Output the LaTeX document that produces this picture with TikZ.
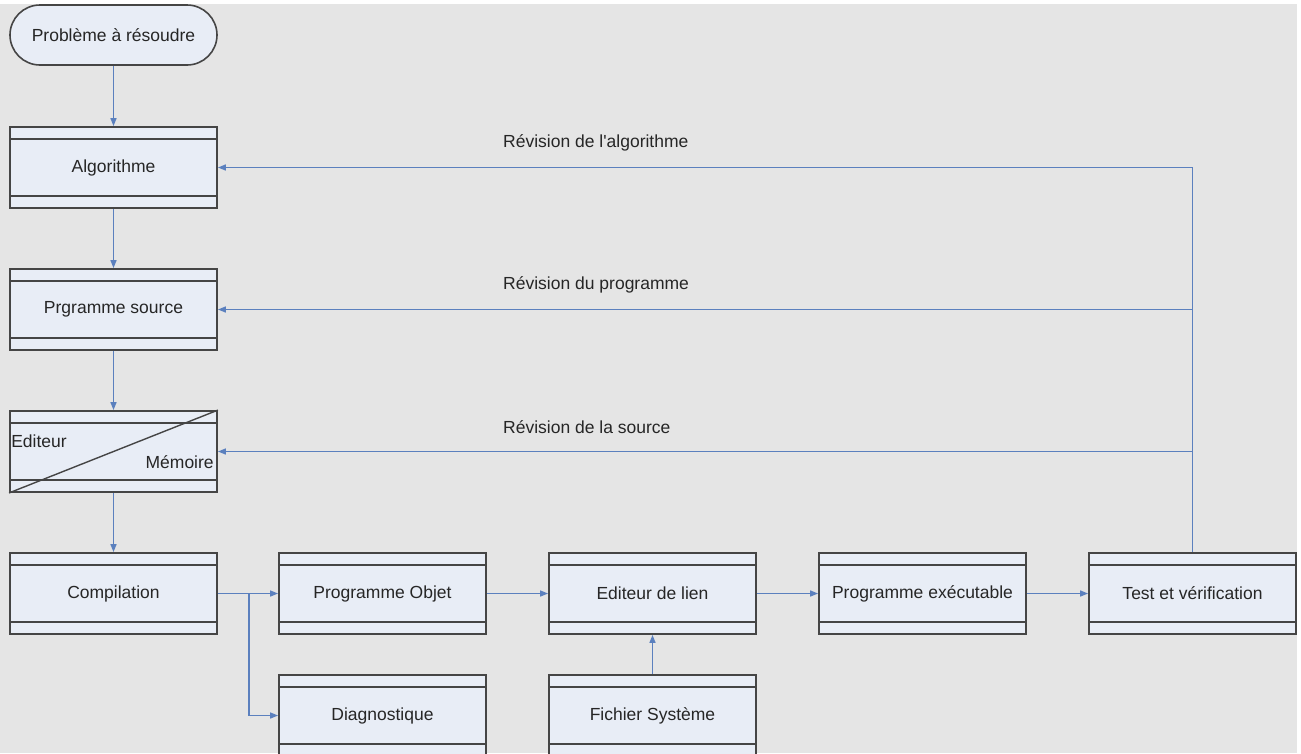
\documentclass[tikz,border=0pt]{standalone}
\usepackage{fontspec}
\setmainfont{Liberation Sans}[Ligatures=TeXOff]
\usetikzlibrary{arrows.meta}
\definecolor{bg}{HTML}{E5E5E5}
\definecolor{boxfill}{HTML}{E8EDF6}
\definecolor{boxline}{HTML}{454545}
\definecolor{arr}{HTML}{5B80BE}
\definecolor{txt}{HTML}{262626}
\begin{document}
\begin{tikzpicture}[x=1pt,y=-1pt,
  every node/.style={font=\fontsize{17.5}{21}\selectfont, text=txt},
  uml/.style={rectangle, draw=boxline, fill=boxfill, line width=1.8pt,
    minimum width=207pt, minimum height=81pt, inner sep=0pt,
    path picture={\draw[boxline, line width=1.6pt]
      ([yshift=-12pt]path picture bounding box.north west) -- ([yshift=-12pt]path picture bounding box.north east)
      ([yshift=12pt]path picture bounding box.south west) -- ([yshift=12pt]path picture bounding box.south east);}},
  term/.style={rectangle, rounded corners=30pt, draw=boxline, fill=boxfill, line width=1.6pt,
    minimum width=207pt, minimum height=60pt, inner sep=0pt},
  arrow/.style={draw=arr, line width=1.5pt, -{Triangle[length=8pt,width=6pt]}},
  lab/.style={anchor=west, inner sep=0pt}
]
\useasboundingbox (0,0) rectangle (1301,753);
\fill[white] (0,0) rectangle (1301,753);
\fill[bg] (0,4) rectangle (1297,753);

\node[term] (prob) at (113.5,35) {Problème à résoudre};
\node[uml] (algo) at (113.5,167.5) {Algorithme};
\node[uml] (src) at (113.5,309.5) {Prgramme source};
\node[uml] (edit) at (113.5,451.5) {};
\draw[boxline, line width=1.4pt] (edit.south west) -- (edit.north east);
\node[anchor=west, inner sep=0pt] (editL) at ([xshift=2pt]edit.west |- 0,441) {Editeur};
\node[anchor=east, inner sep=0pt] (editR) at ([xshift=-4pt]edit.east |- 0,462) {Mémoire};
\node[uml] (comp) at (113.5,593.5) {Compilation};
\node[uml] (obj) at (382.5,593.5) {Programme Objet};
\node[uml] (diag) at (382.5,715.5) {Diagnostique};
\node[uml] (lien) at (652.5,593.5) {Editeur de lien};
\node[uml] (fich) at (652.5,715.5) {Fichier Système};
\node[uml] (exe) at (922.5,593.5) {Programme exécutable};
\node[uml] (test) at (1192.5,593.5) {Test et vérification};

\draw[arrow] (prob) -- (algo);
\draw[arrow] (algo) -- (src);
\draw[arrow] (src) -- (edit);
\draw[arrow] (edit) -- (comp);
\draw[arrow] (comp) -- (obj);
\coordinate (br) at ([xshift=31pt]comp.east);
\draw[arrow] (br) |- (diag.west);
\draw[arrow] (obj) -- (lien);
\draw[arrow] (fich) -- (lien);
\draw[arrow] (lien) -- (exe);
\draw[arrow] (exe) -- (test);

\draw[arrow] (test.north) |- (algo.east);
\draw[arrow] (test.north |- src.east) -- (src.east);
\draw[arrow] (test.north |- edit.east) -- (edit.east);

\node[lab] (l1) at (503,143) {Révision de l'algorithme};
\node[lab] (l2) at (503,285) {Révision du programme};
\node[lab] (l3) at (503,427) {Révision de la source};
\end{tikzpicture}
\end{document}
